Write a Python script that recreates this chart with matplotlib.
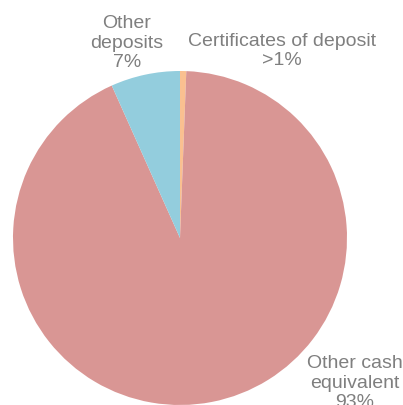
import matplotlib
matplotlib.use("Agg")
import matplotlib.pyplot as plt

labels = ["Certificates of deposit\n>1%", "Other cash\nequivalent\n93%", "Other\ndeposits\n7%"]
values = [0.6, 92.7, 6.7]
colors = ["#FAC090", "#D99694", "#93CDDD"]
# label anchor: centre x and last-line baseline y, in pixels from top-left
label_xy = [(282, 65), (355, 407), (127, 67)]

W, H = 403, 405
fig = plt.figure(figsize=(W / 100, H / 100), dpi=100)
# pie spans x 13..347, y 71..405 (pixels)
ax = fig.add_axes([13 / W, 0, 334 / W, 334 / H])
ax.pie(values, colors=colors, startangle=90, counterclock=False, radius=1,
       wedgeprops=dict(linewidth=0))
ax.set_xlim(-1, 1); ax.set_ylim(-1, 1)
ax.set_aspect("equal"); ax.axis("off")

for lab, (px, py) in zip(labels, label_xy):
    fig.text(px / W, 1 - py / H, lab, ha="center", va="baseline", fontsize=14,
             color="#7F7F7F", family="Liberation Sans", linespacing=1.18)

fig.savefig("out.png", dpi=100)
